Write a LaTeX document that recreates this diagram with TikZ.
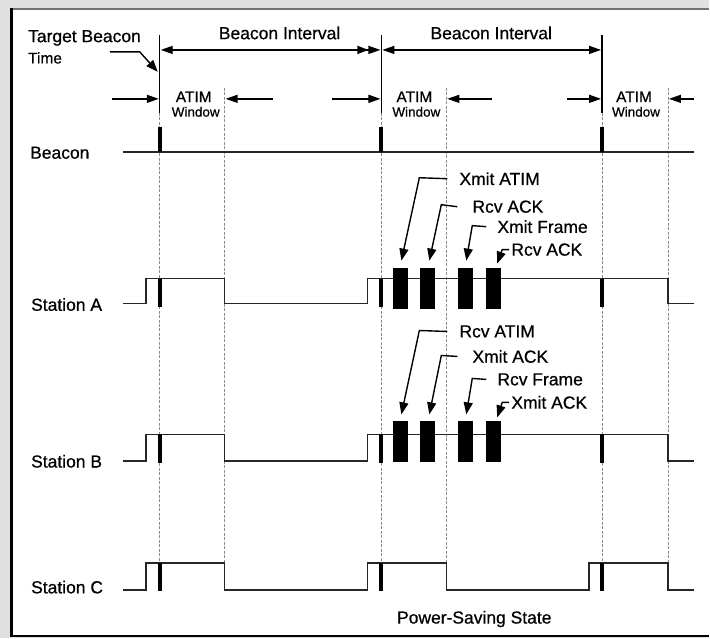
\documentclass[tikz,border=0pt]{standalone}
\usepackage{fontspec}
\setmainfont{Liberation Sans}[FakeBold=0.6]
\usetikzlibrary{arrows.meta}
\begin{document}
\begin{tikzpicture}[x=1pt,y=-1pt,
  lbl/.style={font=\fontsize{17.5}{20}\selectfont, inner sep=0pt, anchor=west},
  small/.style={font=\fontsize{15.5}{17}\selectfont, inner sep=0pt},
  tiny/.style={font=\fontsize{13.5}{15}\selectfont, inner sep=0pt},
  sig/.style={line width=1.6pt, line join=miter, black!85},
  guide/.style={black!45, line width=0.8pt, dash pattern=on 3pt off 1.5pt},
  dimarrow/.style={line width=1.4pt, -{Triangle[length=12pt,width=8pt]}},
  bothend/.style={line width=1.4pt, {Triangle[length=12pt,width=8pt]}-{Triangle[length=12pt,width=8pt]}},
  dblend/.style={line width=1.4pt, {Triangle[length=12pt,width=8pt]}-{Triangle[length=11pt,width=8pt]Triangle[length=12pt,width=8pt]}},
  lead/.style={line width=1.4pt, line join=miter, -{Triangle[length=12pt,width=9pt]}},
  blk/.style={fill=black, draw=none},
]
% page and frame
\fill[black!12] (0,0) rectangle (710,639);
\fill[white] (12,9) rectangle (710,637);
\draw[black!55, line width=2pt] (12,9) -- (710,9);
\draw[black, line width=3pt] (12,8) -- (12,638);
\draw[black, line width=2.2pt] (11,637) -- (710,637);
\useasboundingbox (0,0) rectangle (710,639);

% guide lines
\foreach \x in {160,382,603} \draw[guide] (\x,113) -- (\x,564);
\foreach \x in {225,447,669} \draw[guide] (\x,88) -- (\x,564);
\foreach \x in {160,382,603} \draw[line width=1.4pt] (\x,35) -- (\x,113);

% beacon interval
\node[lbl, anchor=center] (bi1) at (280,33) {Beacon Interval};
\node[lbl, anchor=center] (bi2) at (492,33) {Beacon Interval};
\draw[dblend] (161,50) -- (381,50);
\draw[bothend] (383,50) -- (602,50);

% target beacon time
\node[lbl] (tbt) at (28,38) {Target Beacon};
\node[small, anchor=west] (tbtime) at (28,58) {Time};
\coordinate (tbtip) at (158,72);
\draw[lead] (110,52) -- (140,52) -- (tbtip);

% ATIM windows
\node[small, anchor=center] (atim1) at (194,97) {ATIM};
\node[tiny, anchor=center] (win1) at (196,112) {Window};
\node[small, anchor=center] (atim2) at (415,97) {ATIM};
\node[tiny, anchor=center] (win2) at (417,112) {Window};
\node[small, anchor=center] (atim3) at (635,97) {ATIM};
\node[tiny, anchor=center] (win3) at (637,112) {Window};
\draw[dimarrow] (112,99) -- (159,99);
\draw[dimarrow] (273,99) -- (226,99);
\draw[dimarrow] (333,99) -- (381,99);
\draw[dimarrow] (493,99) -- (448,99);
\draw[dimarrow] (568,99) -- (602,99);
\draw[dimarrow] (695,99) -- (670,99);

% Beacon row
\node[lbl] (lbeacon) at (30,153) {Beacon};
\draw[sig] (123,152) -- (695,152);
\foreach \x in {160,382,603} \fill[blk] (\x-2,127) rectangle (\x+2,152);

% Station A
\node[lbl] (lsa) at (31,305) {Station A};
\draw[sig] (123,304) -- (146,304) -- (146,279) -- (225,279) -- (225,304) -- (368,304) -- (368,279) -- (669,279) -- (669,304) -- (695,304);
\foreach \x in {160,382,603} \fill[blk] (\x-2,279) rectangle (\x+2,307);
\foreach \x in {394,421,459,487} \fill[blk] (\x,268) rectangle (\x+15,309);

\node[lbl] (xatim) at (460,179) {Xmit ATIM};
\node[lbl] (rack1) at (473,207) {Rcv ACK};
\node[lbl] (xframe) at (498,227) {Xmit Frame};
\node[lbl] (rack2) at (512,250) {Rcv ACK};
\draw[lead] ([xshift=-12pt]xatim.west) -- (420,178) -- (402,261);
\draw[lead] ([xshift=-15pt]rack1.west) -- (442,205) -- (430,261);
\draw[lead] ([xshift=-11pt]xframe.west) -- (473,226) -- (467,261);
\draw[lead] ([xshift=-2pt]rack2.west) -- (503,250) -- (498,264);

% Station B
\node[lbl] (lsb) at (31,462) {Station B};
\draw[sig] (123,462) -- (146,462) -- (146,435) -- (225,435) -- (225,462) -- (368,462) -- (368,435) -- (669,435) -- (669,462) -- (695,462);
\foreach \x in {160,382,603} \fill[blk] (\x-2,435) rectangle (\x+2,464);
\foreach \x in {394,421,459,487} \fill[blk] (\x,422) rectangle (\x+15,463);

\node[lbl] (ratim) at (460,332) {Rcv ATIM};
\node[lbl] (xack1) at (473,357) {Xmit ACK};
\node[lbl] (rframe) at (498,380) {Rcv Frame};
\node[lbl] (xack2) at (512,403) {Xmit ACK};
\draw[lead] ([xshift=-12pt]ratim.west) -- (420,331) -- (402,415);
\draw[lead] ([xshift=-15pt]xack1.west) -- (442,356) -- (430,415);
\draw[lead] ([xshift=-11pt]rframe.west) -- (473,379) -- (467,415);
\draw[lead] ([xshift=-2pt]xack2.west) -- (503,403) -- (498,418);

% Station C
\node[lbl] (lsc) at (31,588) {Station C};
\draw[sig] (123,591) -- (146,591) -- (146,564) -- (225,564) -- (225,591) -- (368,591) -- (368,564) -- (447,564) -- (447,591) -- (590,591) -- (590,564) -- (669,564) -- (669,591) -- (695,591);
\foreach \x in {160,382,603} \fill[blk] (\x-2,564) rectangle (\x+2,592);

\node[lbl, anchor=center] (lps) at (475,620) {Power-Saving State};
\end{tikzpicture}
\end{document}
